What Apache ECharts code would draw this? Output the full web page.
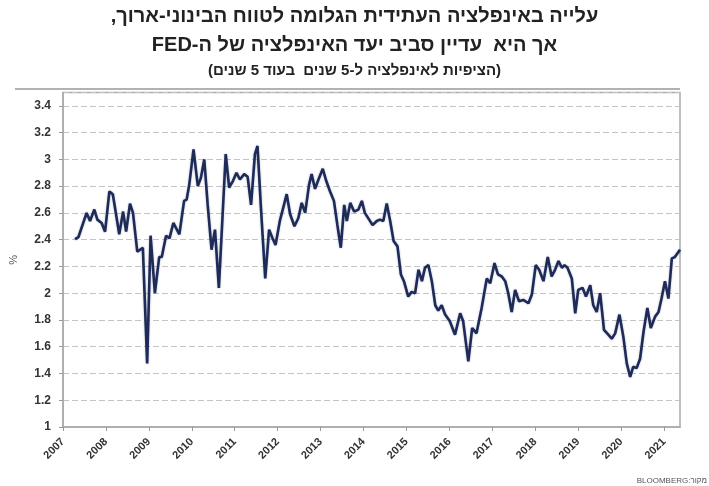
<!DOCTYPE html>
<html><head><meta charset="utf-8">
<script src="https://cdn.jsdelivr.net/npm/echarts@6/dist/echarts.min.js"></script>
<style>html,body{margin:0;padding:0;background:#fff}#c{width:709px;height:486px}</style>
</head><body><div id="c" dir="rtl"></div>
<script>
const titleLine1 = 'עלייה באינפלציה העתידית הגלומה לטווח הבינוני-ארוך,';
const titleLine2 = 'אך היא  עדיין סביב יעד האינפלציה של ה-FED';
const titleLine3 = '(הציפיות לאינפלציה ל-5 שנים  בעוד 5 שנים)';
const sourceText = 'מקור:BLOOMBERG';
const yAxisName = '%';
const yearLabels = [2007,2008,2009,2010,2011,2012,2013,2014,2015,2016,2017,2018,2019,2020,2021];
const yTickLabels = [1,1.2,1.4,1.6,1.8,2,2.2,2.4,2.6,2.8,3,3.2,3.4];

// decimal-year dates
const dates = [
2007.28,2007.36,2007.55,2007.63,2007.73,2007.80,2007.90,2007.98,
2008.08,2008.16,2008.21,2008.31,2008.40,2008.47,2008.56,2008.63,2008.73,2008.86,2008.96,
2009.04,2009.14,2009.24,2009.30,2009.40,2009.48,2009.57,2009.71,2009.82,2009.88,2009.94,
2010.04,2010.14,2010.21,2010.29,2010.37,2010.46,2010.54,2010.63,2010.71,2010.79,2010.87,2010.96,
2011.04,2011.12,2011.22,2011.30,2011.38,2011.47,2011.53,2011.61,2011.71,2011.80,2011.88,2011.95,
2012.05,2012.13,2012.21,2012.29,2012.39,2012.48,2012.56,2012.64,2012.73,2012.79,2012.87,2012.95,
2013.05,2013.13,2013.22,2013.31,2013.39,2013.47,2013.55,2013.61,2013.69,2013.78,2013.88,2013.96,
2014.03,2014.13,2014.21,2014.31,2014.38,2014.46,2014.54,2014.62,2014.70,2014.79,2014.87,2014.94,
2015.04,2015.12,2015.20,2015.28,2015.36,2015.43,2015.51,2015.59,2015.67,2015.74,2015.82,2015.90,
2016.01,2016.13,2016.25,2016.32,2016.44,2016.53,2016.63,2016.75,2016.87,2016.95,
2017.05,2017.13,2017.22,2017.30,2017.37,2017.45,2017.53,2017.62,2017.72,2017.84,2017.92,
2018.01,2018.09,2018.19,2018.29,2018.38,2018.46,2018.54,2018.62,2018.68,2018.75,2018.85,2018.93,
2019.00,2019.10,2019.18,2019.28,2019.35,2019.43,2019.51,2019.60,2019.70,2019.78,2019.86,2019.96,
2020.05,2020.13,2020.21,2020.28,2020.36,2020.44,2020.52,2020.61,2020.69,2020.79,2020.87,2020.94,
2021.02,2021.10,2021.18,2021.25,2021.37
];
const values = [
2.405,2.42,2.60,2.54,2.625,2.55,2.525,2.46,
2.76,2.74,2.64,2.44,2.61,2.46,2.67,2.60,2.31,2.34,1.475,
2.43,2.00,2.27,2.27,2.43,2.41,2.525,2.44,2.69,2.70,2.81,
3.075,2.80,2.86,3.00,2.66,2.325,2.475,2.04,2.54,3.04,2.79,2.84,
2.90,2.85,2.89,2.87,2.66,3.04,3.10,2.64,2.11,2.475,2.41,2.36,
2.54,2.64,2.74,2.59,2.50,2.56,2.675,2.60,2.81,2.89,2.78,2.85,
2.93,2.84,2.76,2.69,2.51,2.34,2.66,2.54,2.675,2.61,2.625,2.69,
2.60,2.55,2.51,2.54,2.55,2.54,2.67,2.54,2.39,2.35,2.14,2.09,
1.975,2.01,2.00,2.175,2.09,2.19,2.21,2.09,1.91,1.87,1.91,1.84,
1.79,1.69,1.85,1.79,1.49,1.74,1.70,1.89,2.11,2.075,
2.225,2.14,2.125,2.09,2.00,1.86,2.025,1.94,1.95,1.925,1.99,
2.21,2.175,2.09,2.27,2.125,2.175,2.24,2.19,2.21,2.19,2.11,1.85,
2.025,2.04,1.975,2.06,1.91,1.86,2.00,1.725,1.69,1.66,1.70,1.84,
1.675,1.475,1.375,1.45,1.44,1.51,1.71,1.89,1.74,1.825,1.86,1.96,
2.09,1.96,2.26,2.27,2.325
];

const seriesData = dates.map((d, i) => [d, values[i]]);
const chart = echarts.init(document.getElementById('c'), null, {renderer: 'canvas'});
const labelFont = {fontFamily: 'Liberation Sans, Arial, sans-serif', fontWeight: 'bold', color: '#333'};
const titleFont = 'Liberation Sans Narrow, Liberation Sans, Arial, sans-serif';

chart.setOption({
  animation: false,
  backgroundColor: '#fff',
  grid: {left: 63, right: 29, top: 92.5, bottom: 59, show: true, borderColor: '#aaa', borderWidth: 1.5},
  xAxis: {
    type: 'value', min: 2007, max: 2021.37, interval: 1,
    axisLine: {show: true, lineStyle: {color: '#aaa', width: 1.5}},
    axisTick: {show: true, length: 4, lineStyle: {color: '#999'}},
    splitLine: {show: false},
    axisLabel: Object.assign({
      rotate: 45, fontSize: 11, margin: 13, showMaxLabel: false,
      formatter: v => yearLabels.indexOf(Math.round(v)) >= 0 && Math.abs(v - Math.round(v)) < 1e-6 ? String(Math.round(v)) : ''
    }, labelFont)
  },
  yAxis: {
    type: 'value', min: 1, max: 3.5, interval: 0.2,
    name: yAxisName, nameLocation: 'middle', nameGap: 44, nameRotate: 90,
    nameTextStyle: {fontSize: 11, color: '#555', fontFamily: 'Liberation Sans, Arial, sans-serif'},
    axisLine: {show: true, lineStyle: {color: '#aaa', width: 1.5}},
    axisTick: {show: true, length: 4, lineStyle: {color: '#999'}},
    splitLine: {show: true, lineStyle: {color: '#c4c4c4', type: [6, 3], width: 1}},
    axisLabel: Object.assign({
      fontSize: 12, margin: 12, showMaxLabel: false,
      formatter: v => {
        const hit = yTickLabels.find(t => Math.abs(t - v) < 1e-6);
        return hit === undefined ? '' : String(hit);
      }
    }, labelFont)
  },
  series: [{
    type: 'line', data: seriesData, symbol: 'none', smooth: false,
    lineStyle: {color: '#1e2b58', width: 2.6, shadowColor: 'rgba(30,43,88,0.35)', shadowBlur: 2}
  }],
  graphic: [
    {type: 'text', left: 'center', top: 6, style: {text: titleLine1, font: 'bold 20px ' + titleFont, fill: '#222'}},
    {type: 'text', left: 'center', top: 35, style: {text: titleLine2, font: 'bold 20px ' + titleFont, fill: '#222'}},
    {type: 'text', left: 'center', top: 63, style: {text: titleLine3, font: 'bold 15px ' + titleFont, fill: '#222'}},
    {type: 'line', shape: {x1: 15, y1: 89, x2: 680, y2: 89}, style: {stroke: '#999', lineWidth: 1.5}},
    {type: 'text', right: 2, bottom: 1, style: {text: sourceText, font: '8px Liberation Sans, Arial, sans-serif', fill: '#555'}}
  ]
});
</script></body></html>
